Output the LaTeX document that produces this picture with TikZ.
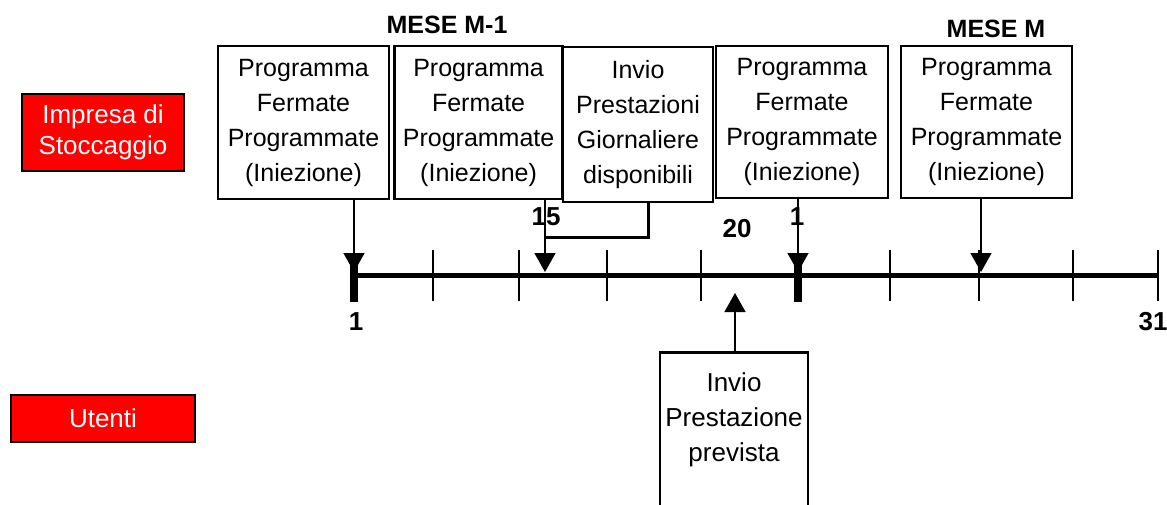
\documentclass[tikz,border=0pt]{standalone}
\usepackage{fontspec}
\setmainfont{Liberation Sans}
\usetikzlibrary{arrows.meta}
\begin{document}
\begin{tikzpicture}[x=1pt,y=-1pt,
  box/.style={draw=black, line width=2.5pt, fill=white, align=center, inner sep=0pt,
    minimum height=153pt, font=\fontsize{25}{35}\selectfont},
  redbox/.style={draw=black, line width=2pt, fill=red, text=white, align=center, inner sep=0pt,
    font=\fontsize{26}{31}\selectfont},
  arr/.style={line width=1.5pt, -{Triangle[width=21pt,length=19pt]}},
  thintick/.style={line width=2pt},
  thicktick/.style={line width=8pt},
  num/.style={font=\bfseries\fontsize{26}{30}\selectfont, inner sep=0pt},
  mese/.style={font=\bfseries\fontsize{25}{30}\selectfont, inner sep=0pt},
  txt/.style={align=center, inner sep=0pt, font=\fontsize{26}{35}\selectfont}
]
\useasboundingbox (0,0) rectangle (1167,504);
\clip (0,0) rectangle (1167,504);

% red boxes
\node[redbox, minimum width=162pt, minimum height=77pt] (impresa) at (103,132.5) {Impresa di\\Stoccaggio};
\node[redbox, minimum width=184pt, minimum height=47pt] (utenti) at (103,418) {Utenti};

% month labels
\node[mese] (m1) at (447,25) {MESE M-1};
\node[mese] (mm) at (996,29) {MESE M};

% top boxes
\node[box, minimum width=171pt] (box1) at (303.5,122.5) {Programma\\Fermate\\Programmate\\(Iniezione)};
\node[box, minimum width=168pt] (box2) at (478.6,122.5) {Programma\\Fermate\\Programmate\\(Iniezione)};
\node[box, minimum width=150pt, minimum height=155pt] (box3) at (638,124.5) {Invio\\Prestazioni\\Giornaliere\\disponibili};
\node[box, minimum width=172pt, minimum height=152pt] (box4) at (802,122) {Programma\\Fermate\\Programmate\\(Iniezione)};
\node[box, minimum width=171pt, minimum height=152pt] (box5) at (986.5,122) {Programma\\Fermate\\Programmate\\(Iniezione)};

% bottom box
\node[draw=black, line width=2.5pt, fill=white, minimum width=148pt, minimum height=180pt, inner sep=0pt, anchor=north] (box6) at (734,351) {};
\node[txt] (box6t) at (734,420) {Invio\\Prestazione\\prevista};

% timeline
\coordinate (t1) at (354,275);
\coordinate (t31) at (1158,275);
\draw[line width=5pt] (t1) -- (t31);
\foreach \x in {433,519,607,701,890,979,1073,1158} {
  \draw[thintick] (\x,250) -- (\x,301);
}
\draw[thicktick] (354,258) -- (354,302);
\draw[thicktick] (798,258) -- (798,302);

% arrow tips
\coordinate (a1) at (354,272);
\coordinate (a15) at (545,272);
\coordinate (aM1) at (798,272);
\coordinate (aM) at (981,272);
\coordinate (a20) at (735,293);
\coordinate (br) at (648,237);

% labels
\node[num] (n15) at (546,217) {15};
\node[num] (n20) at (737,229) {20};
\node[num] (n1top) at (797,217) {1};
\node[num] (n1) at (356,322) {1};
\node[num] (n31) at (1153,322) {31};

% connectors
\draw[arr] (box1.south -| a1) -- (a1);
\draw[arr] (box2.south -| a15) -- (a15);
\draw[line width=3pt] (box3.south -| br) -- (br) -- (br -| a15);
\draw[arr] (box4.south -| aM1) -- (aM1);
\draw[arr] (box5.south -| aM) -- (aM);
\draw[arr] (box6.north -| a20) -- (a20);
\end{tikzpicture}
\end{document}
